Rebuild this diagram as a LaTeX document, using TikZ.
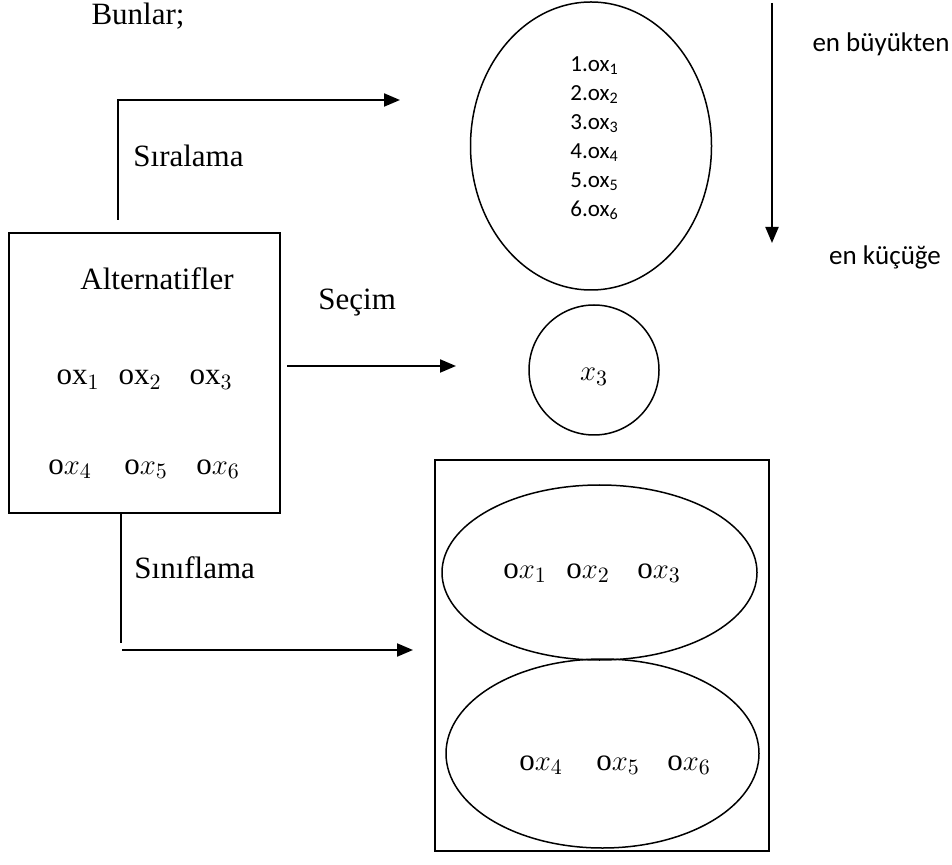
\documentclass[tikz,border=0pt]{standalone}
\usepackage{fontspec}
\setmainfont{Liberation Serif}
\newfontfamily\calfont{Carlito}
\usetikzlibrary{shapes.geometric,arrows.meta}
\begin{document}
\begin{tikzpicture}[x=0.5pt,y=-0.5pt,
  conn/.style={line width=1pt,-{Triangle[length=8pt,width=6.5pt]}},
  plainline/.style={line width=1pt},
  frame/.style={draw,line width=0.75pt,inner sep=0pt,outer sep=0pt},
  serif/.style={inner sep=0pt,font=\fontsize{15.5}{18}\selectfont},
  cal/.style={inner sep=0pt,font=\calfont\fontsize{13.5}{16}\selectfont},
  calsmall/.style={inner sep=0pt,align=left,font=\calfont\fontsize{11.5}{14.5}\selectfont}]
\useasboundingbox (0,0) rectangle (952,865);

% title
\node[serif,anchor=base] (bunlar) at (138,25) {Bunlar;};

% left box
\node[frame,minimum width=135.5pt,minimum height=140pt] (alt) at (144.5,373) {};
\node[serif,anchor=base] (alttitle) at (157,290) {Alternatifler};
\node[serif,anchor=base] (a1) at (78,385) {ox$_1$};
\node[serif,anchor=base] (a2) at (140,385) {ox$_2$};
\node[serif,anchor=base] (a3) at (211,385) {ox$_3$};
\node[serif,anchor=base] (a4) at (70,474) {o$x_4$};
\node[serif,anchor=base] (a5) at (146,474) {o$x_5$};
\node[serif,anchor=base] (a6) at (218,474) {o$x_6$};

% Siralama
\coordinate (sirA) at (118,220);
\coordinate (sirB) at (400,100);
\draw[conn] (sirA) |- (sirB);
\node[serif,anchor=base west] (sirlbl) at (133,167) {Sıralama};

% top ellipse
\node[frame,ellipse,minimum width=120.5pt,minimum height=144pt] (rank) at (591,146) {};
\node[calsmall,anchor=north west] (ranklist) at (570,56) {1.ox\textsubscript{1}\\2.ox\textsubscript{2}\\3.ox\textsubscript{3}\\4.ox\textsubscript{4}\\5.ox\textsubscript{5}\\6.ox\textsubscript{6}};

% order arrow
\coordinate (ordA) at (772,3);
\coordinate (ordB) at (772,243);
\draw[conn] (ordA) -- (ordB);
\node[cal,anchor=base] (big) at (881,52) {en büyükten};
\node[cal,anchor=base] (small) at (885,265) {en küçüğe};

% Secim
\node[serif,anchor=base west] (seclbl) at (318,310) {Seçim};
\coordinate (secA) at (287,366);
\coordinate (secB) at (456,366);
\draw[conn] (secA) -- (secB);
\node[frame,circle,minimum size=65pt] (choice) at (594,370) {};
\node[serif,anchor=base] (x3) at (594,381) {$x_3$};

% Siniflama
\coordinate (sinA) at (121,512);
\coordinate (sinB) at (121,643);
\draw[plainline] (sinA) -- (sinB);
\coordinate (sinC) at (122,650);
\coordinate (sinD) at (413,650);
\draw[conn] (sinC) -- (sinD);
\node[serif,anchor=base west] (sinlbl) at (134,578) {Sınıflama};

% right box with classes
\node[frame,minimum width=167pt,minimum height=195.5pt] (classes) at (602,655.5) {};
\node[frame,ellipse,minimum width=157.5pt,minimum height=87.5pt] (c1) at (599.5,572.5) {};
\node[frame,ellipse,minimum width=156.5pt,minimum height=94.5pt] (c2) at (602.5,753.5) {};
\node[serif,anchor=base] (b1) at (525,578) {o$x_1$};
\node[serif,anchor=base] (b2) at (588,578) {o$x_2$};
\node[serif,anchor=base] (b3) at (659,578) {o$x_3$};
\node[serif,anchor=base] (b4) at (541,770) {o$x_4$};
\node[serif,anchor=base] (b5) at (618,770) {o$x_5$};
\node[serif,anchor=base] (b6) at (689,770) {o$x_6$};
\end{tikzpicture}
\end{document}
